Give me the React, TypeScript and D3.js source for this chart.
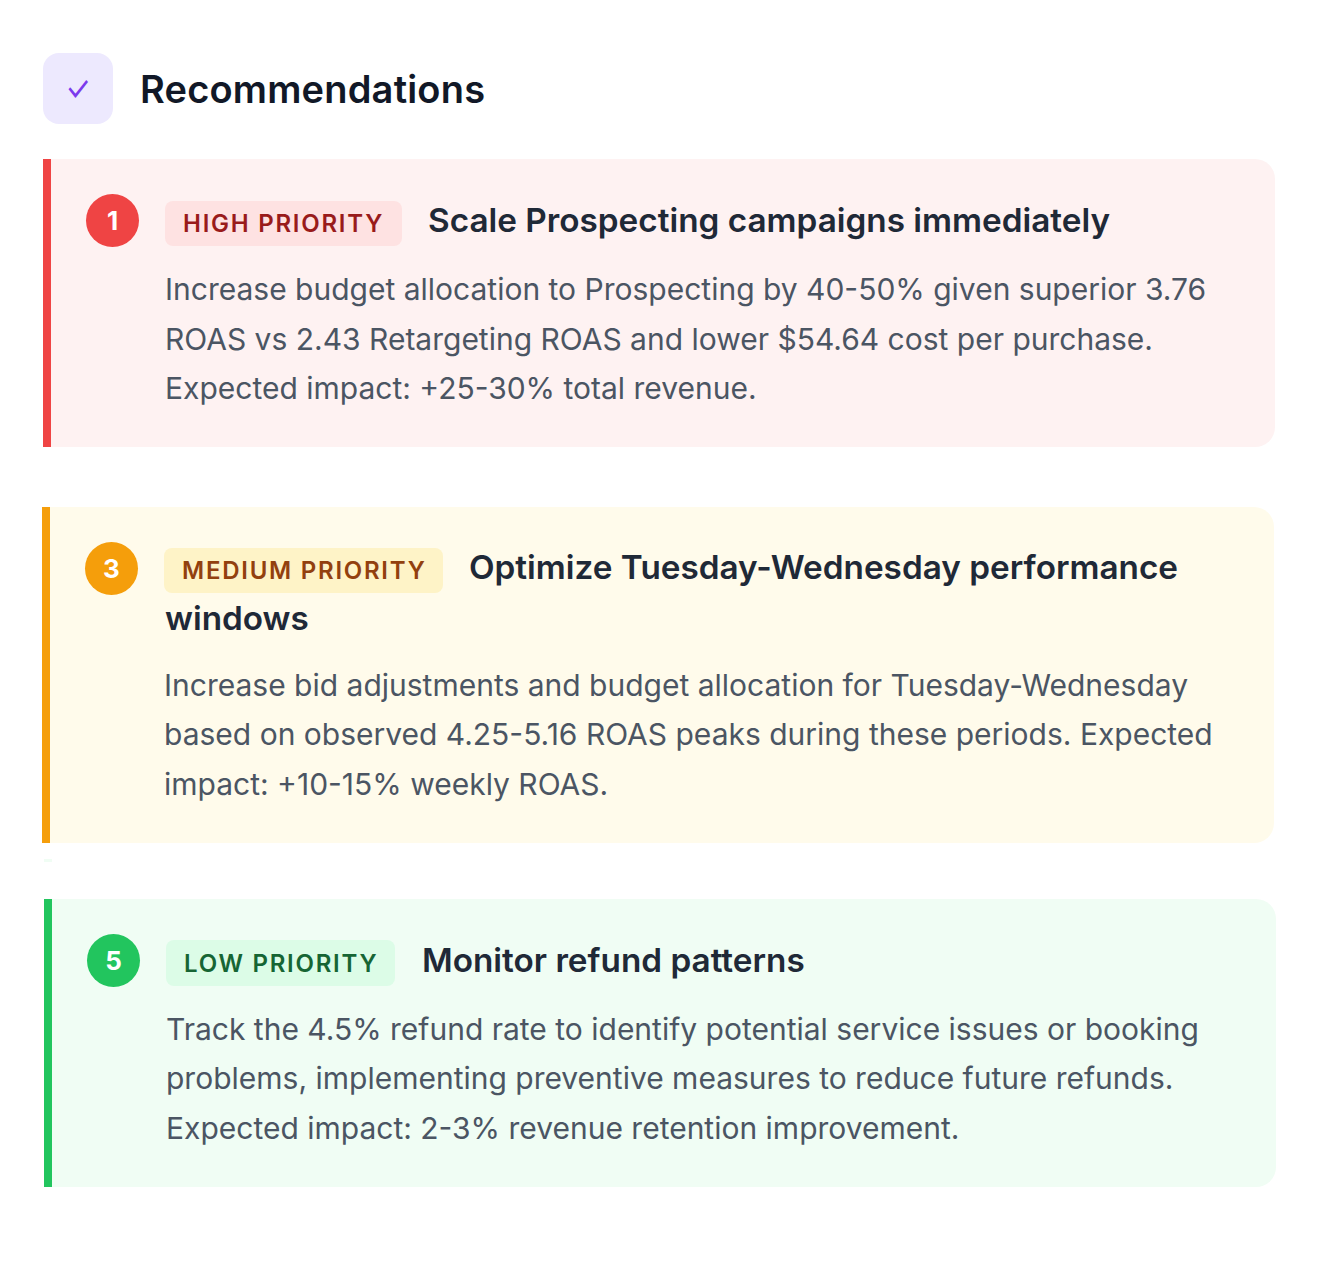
import React from "react";
import * as d3 from "d3";

const heading = "Recommendations";
const iconGlyph = "✓";
const ranks = ["1", "3", "5"];
const badges = ["HIGH PRIORITY", "MEDIUM PRIORITY", "LOW PRIORITY"];
const titles = [
  ["Scale Prospecting campaigns immediately"],
  ["Optimize Tuesday-Wednesday performance", "windows"],
  ["Monitor refund patterns"],
];
const bodies = [
  [
    "Increase budget allocation to Prospecting by 40-50% given superior 3.76",
    "ROAS vs 2.43 Retargeting ROAS and lower $54.64 cost per purchase.",
    "Expected impact: +25-30% total revenue.",
  ],
  [
    "Increase bid adjustments and budget allocation for Tuesday-Wednesday",
    "based on observed 4.25-5.16 ROAS peaks during these periods. Expected",
    "impact: +10-15% weekly ROAS.",
  ],
  [
    "Track the 4.5% refund rate to identify potential service issues or booking",
    "problems, implementing preventive measures to reduce future refunds.",
    "Expected impact: 2-3% revenue retention improvement.",
  ],
];

const accent = ["#ef4444", "#f59e0b", "#22c55e"];
const cardFill = ["#fef2f2", "#fffbeb", "#f0fdf4"];
const badgeFill = ["#fee2e2", "#fef3c7", "#dcfce7"];
const badgeText = ["#991b1b", "#92400e", "#166534"];

const layout = [
  { x: 43, y: 159, h: 288, badgeW: 237, titleX: 428, badgeX: 165, cx: 112.5, cy: 220.5, badgeY: 201, badgeBase: 232, titleY: 232, bodyY: 300.5 },
  { x: 42, y: 507, h: 336, badgeW: 279, titleX: 469, badgeX: 164, cx: 111.5, cy: 568.5, badgeY: 548, badgeBase: 579, titleY: 579, bodyY: 696 },
  { x: 44, y: 899, h: 288, badgeW: 229, titleX: 422, badgeX: 166, cx: 113.5, cy: 960.5, badgeY: 940, badgeBase: 972, titleY: 972, bodyY: 1040 },
];

const FONT = "Inter, 'Noto Sans', sans-serif";

function cardPath(x: number, y: number, w: number, h: number, r: number) {
  const p = d3.path();
  p.moveTo(x, y);
  p.lineTo(x + w - r, y);
  p.arcTo(x + w, y, x + w, y + r, r);
  p.lineTo(x + w, y + h - r);
  p.arcTo(x + w, y + h, x + w - r, y + h, r);
  p.lineTo(x, y + h);
  p.closePath();
  return p.toString();
}

export default function App() {
  return (
    <svg
      width={1340}
      height={1261}
      viewBox="0 0 1340 1261"
      style={{ position: "absolute", left: 0, top: 0, background: "#ffffff", fontFamily: FONT }}
    >
      <rect x={43} y={53} width={70} height={71} rx={16} fill="#ede9fe" />
      <text
        transform="translate(78,101) scale(0.88,1.12)"
        textAnchor="middle"
        fontSize={32}
        fill="#7c3aed"
      >{iconGlyph}</text>
      <text x={140} y={103} fontSize={38} fontWeight={600} fill="#111827" textLength={345} lengthAdjust="spacing">{heading}</text>
      <rect x={44} y={859} width={8} height={3} fill="#f0fdf4" />

      {layout.map((c, i) => (
        <g key={ranks[i]}>
          <path d={cardPath(c.x, c.y, 1232, c.h, 20)} fill={cardFill[i]} />
          <rect x={c.x} y={c.y} width={8} height={c.h} fill={accent[i]} />
          <circle cx={c.cx} cy={c.cy} r={26.5} fill={accent[i]} />
          <text x={c.cx} y={c.cy + 9} textAnchor="middle" fontSize={26} fontWeight={700} fill="#ffffff">{ranks[i]}</text>
          <rect x={c.badgeX} y={c.badgeY} width={c.badgeW} height={i === 2 ? 46 : 45} rx={8} fill={badgeFill[i]} />
          <text x={c.badgeX + 18} y={c.badgeBase} fontSize={24} fontWeight={600} letterSpacing={1.75} fill={badgeText[i]}>{badges[i]}</text>
          {titles[i].map((t, j) => (
            <text
              key={t}
              x={j === 0 ? c.titleX : c.badgeX + 1}
              y={c.titleY + j * 51}
              fontSize={33.3}
              fontWeight={600}
              fill="#1f2937"
            >{t}</text>
          ))}
          {bodies[i].map((t, j) => (
            <text key={t} x={c.badgeX} y={Math.floor(c.bodyY + j * 49.5)} fontSize={30} fill="#4b5563">{t}</text>
          ))}
        </g>
      ))}
    </svg>
  );
}
